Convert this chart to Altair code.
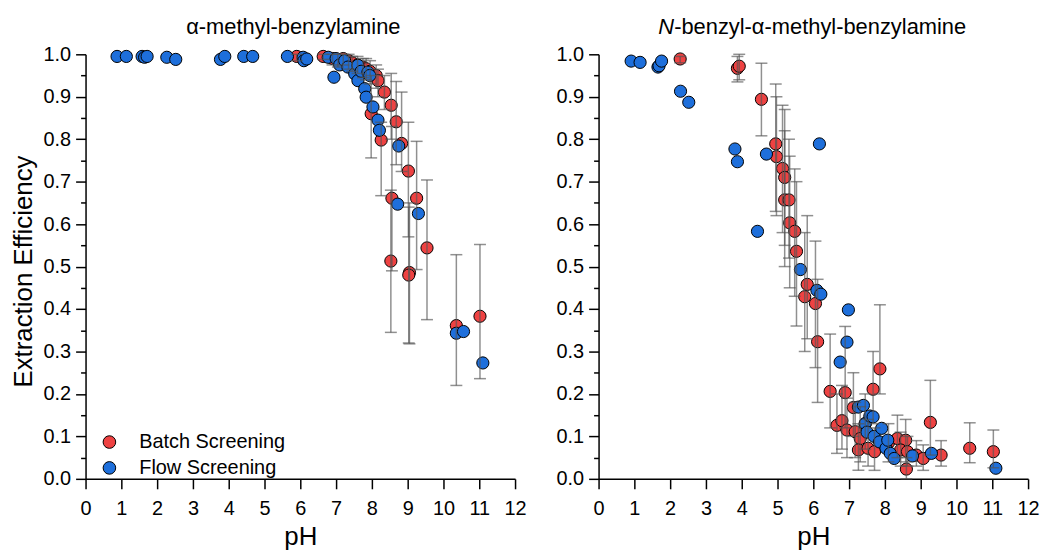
import altair as alt
import pandas as pd

FONT = "Liberation Sans"

series_names = ["Batch Screening", "Flow Screening"]
series_colors = ["#EE4242", "#1E6FDB"]

# ---------------- Left panel: alpha-methyl-benzylamine ----------------
L_batch_ph = [5.90, 6.64, 6.90, 7.05, 7.20, 7.35, 7.45, 7.60, 7.75, 7.84, 7.95, 8.12, 8.17,
              8.35, 8.54, 7.98, 8.68, 8.26, 8.83, 9.02, 8.56, 8.53, 9.25, 9.05, 9.03, 9.54,
              10.36, 11.02]
L_batch_eff = [0.995, 0.995, 0.990, 0.985, 0.990, 0.985, 0.980, 0.975, 0.970, 0.966, 0.960, 0.950, 0.938,
               0.911, 0.880, 0.860, 0.841, 0.798, 0.790, 0.725, 0.661, 0.513, 0.661, 0.486, 0.480, 0.544,
               0.361, 0.383]
L_batch_lo = [0.985, 0.988, 0.975, 0.970, 0.975, 0.965, 0.960, 0.955, 0.945, 0.940, 0.930, 0.920, 0.900,
              0.870, 0.800, 0.756, 0.740, 0.667, 0.724, 0.570, 0.490, 0.345, 0.493, 0.318, 0.320, 0.375,
              0.220, 0.236]
L_batch_hi = [1.000, 1.000, 1.000, 1.000, 1.000, 1.000, 0.995, 0.995, 0.990, 0.990, 0.985, 0.975, 0.965,
              0.950, 0.955, 0.950, 0.936, 0.840, 0.911, 0.840, 0.830, 0.680, 0.795, 0.650, 0.640, 0.704,
              0.528, 0.552]
L_flow_ph = [0.88, 1.14, 1.58, 1.65, 1.72, 2.27, 2.52, 3.77, 3.89, 4.42, 4.67, 5.64, 6.08, 6.10,
             6.18, 6.78, 6.94, 7.00, 7.10, 7.24, 7.33, 7.52, 7.61, 7.61, 7.70, 7.80, 7.84, 7.89,
             7.94, 8.03, 8.17, 8.21, 8.75, 8.72, 9.30, 10.36, 10.56, 11.10]
L_flow_eff = [0.995, 0.995, 0.995, 0.993, 0.995, 0.993, 0.988, 0.988, 0.995, 0.995, 0.995, 0.995, 0.993, 0.985,
              0.989, 0.993, 0.946, 0.990, 0.975, 0.985, 0.970, 0.954, 0.974, 0.938, 0.960, 0.919, 0.899, 0.958,
              0.950, 0.876, 0.845, 0.821, 0.784, 0.647, 0.625, 0.343, 0.347, 0.273]

# ---------------- Right panel: N-benzyl-alpha-methyl-benzylamine ----------------
R_batch_ph = [2.28, 3.88, 3.93, 4.55, 4.95, 4.97, 5.14, 5.20, 5.20, 5.32, 5.34, 5.48, 5.53,
              5.83, 5.76, 6.06, 6.12, 6.47, 6.89, 7.67, 7.86, 7.12, 6.66, 6.80, 6.94, 7.17,
              7.31, 7.26, 7.53, 7.71, 7.45, 8.10, 8.35, 8.58, 8.44, 8.63, 8.60, 8.88, 9.07,
              9.57, 9.27, 10.37, 11.03]
R_batch_eff = [0.989, 0.967, 0.972, 0.894, 0.789, 0.759, 0.731, 0.710, 0.657, 0.657, 0.603, 0.583, 0.536,
               0.458, 0.429, 0.413, 0.323, 0.206, 0.203, 0.211, 0.259, 0.168, 0.126, 0.137, 0.115, 0.111,
               0.095, 0.068, 0.072, 0.064, 0.130, 0.085, 0.095, 0.091, 0.068, 0.064, 0.023, 0.056, 0.048,
               0.056, 0.133, 0.072, 0.064]
R_batch_lo = [0.980, 0.935, 0.940, 0.808, 0.630, 0.620, 0.580, 0.550, 0.500, 0.520, 0.450, 0.430, 0.360,
              0.330, 0.300, 0.262, 0.180, 0.120, 0.120, 0.130, 0.200, 0.100, 0.060, 0.070, 0.050, 0.050,
              0.040, 0.020, 0.030, 0.020, 0.070, 0.040, 0.050, 0.040, 0.030, 0.030, 0.000, 0.030, 0.020,
              0.030, 0.056, 0.038, 0.026]
R_batch_hi = [0.995, 0.995, 1.000, 0.979, 0.930, 0.900, 0.880, 0.870, 0.820, 0.800, 0.760, 0.730, 0.700,
              0.620, 0.580, 0.560, 0.470, 0.341, 0.359, 0.300, 0.410, 0.250, 0.200, 0.220, 0.190, 0.180,
              0.170, 0.130, 0.140, 0.120, 0.200, 0.130, 0.150, 0.140, 0.110, 0.100, 0.050, 0.090, 0.080,
              0.090, 0.232, 0.132, 0.115]
R_flow_ph = [0.91, 1.16, 1.66, 1.69, 1.76, 2.29, 2.52, 3.81, 3.88, 4.44, 4.69, 6.17, 5.64, 6.10,
             6.21, 6.98, 6.94, 6.75, 7.26, 7.40, 7.45, 7.50, 7.58, 7.67, 7.70, 7.91, 7.85, 8.03,
             8.08, 8.15, 8.26, 8.77, 9.30, 11.10]
R_flow_eff = [0.984, 0.981, 0.970, 0.973, 0.984, 0.913, 0.887, 0.777, 0.747, 0.583, 0.765, 0.789, 0.493, 0.444,
              0.435, 0.398, 0.322, 0.275, 0.169, 0.173, 0.130, 0.110, 0.148, 0.146, 0.100, 0.119, 0.087, 0.072,
              0.091, 0.060, 0.048, 0.054, 0.060, 0.025]

x_tick_values = [i * 0.25 for i in range(49)]
y_tick_values = [round(i * 0.05, 2) for i in range(21)]

PLOT_W = 432
PLOT_H = 427


def make_axes(ytitle):
    xaxis = alt.Axis(
        title="pH", values=x_tick_values, format="d",
        labelExpr="datum.value % 1 === 0 ? datum.label : ''",
        tickSize={"condition": {"test": "datum.value % 1 === 0", "value": 10}, "value": 5},
        labelOverlap=False, labelFlush=False, labelFontSize=20, labelPadding=10,
        titleFontSize=26, titlePadding=5, grid=False,
    )
    yargs = dict(
        values=y_tick_values, format=".1f",
        labelExpr="abs(datum.value * 10 - round(datum.value * 10)) < 0.000001 ? datum.label : ''",
        tickSize={"condition": {"test": "abs(datum.value * 10 - round(datum.value * 10)) < 0.000001",
                                "value": 10}, "value": 5},
        labelOverlap=False, labelFlush=False, labelFontSize=20, labelPadding=5, grid=False,
    )
    if ytitle:
        yaxis = alt.Axis(title=ytitle, titleFontSize=26, titleX=-62, titleY=218,
                         titleAlign="center", titleBaseline="middle", **yargs)
    else:
        yaxis = alt.Axis(title=None, **yargs)
    return xaxis, yaxis


def panel(bph, beff, blo, bhi, fph, feff, title_parts, show_legend, ytitle):
    pts = pd.DataFrame({
        "pH": bph + fph,
        "eff": beff + feff,
        "series": [series_names[0]] * len(bph) + [series_names[1]] * len(fph),
    })
    err = pd.DataFrame({"pH": bph, "lo": blo, "hi": bhi})
    xs = alt.Scale(domain=[0, 12], nice=False, zero=False)
    ys = alt.Scale(domain=[0, 1], nice=False, zero=False)
    xaxis, yaxis = make_axes(ytitle)

    if show_legend:
        legend = alt.Legend(orient="none", legendX=14, legendY=380, title=None,
                            symbolType="circle", symbolSize=160, symbolStrokeColor="black",
                            symbolStrokeWidth=1, labelFont=FONT, labelFontSize=20,
                            labelColor="black", labelOffset=20, rowPadding=6, padding=0)
    else:
        legend = None

    points = alt.Chart(pts).mark_circle(size=150, opacity=1, stroke="black", strokeWidth=1).encode(
        x=alt.X("pH:Q", scale=xs, axis=xaxis),
        y=alt.Y("eff:Q", scale=ys, axis=yaxis),
        color=alt.Color("series:N", scale=alt.Scale(domain=series_names, range=series_colors),
                        legend=legend),
    )
    rules = alt.Chart(err).mark_rule(color="#555555", opacity=0.65, strokeWidth=1.5).encode(
        x=alt.X("pH:Q", scale=xs, axis=xaxis),
        y=alt.Y("lo:Q", scale=ys, axis=yaxis),
        y2="hi:Q",
    )
    cap_lo = alt.Chart(err).mark_tick(orient="horizontal", size=12, thickness=1.5,
                                      color="#555555", opacity=0.65).encode(
        x=alt.X("pH:Q", scale=xs, axis=xaxis),
        y=alt.Y("lo:Q", scale=ys, axis=yaxis),
    )
    cap_hi = alt.Chart(err).mark_tick(orient="horizontal", size=12, thickness=1.5,
                                      color="#555555", opacity=0.65).encode(
        x=alt.X("pH:Q", scale=xs, axis=xaxis),
        y=alt.Y("hi:Q", scale=ys, axis=yaxis),
    )
    layers = [points, rules, cap_lo, cap_hi]
    for txt, xpos, align, style in title_parts:
        layers.append(
            alt.Chart(pd.DataFrame({"t": [txt]})).mark_text(
                font=FONT, fontSize=22, align=align, baseline="alphabetic",
                fontStyle=style, color="black",
            ).encode(x=alt.value(xpos), y=alt.value(-20), text="t:N")
        )
    return alt.layer(*layers).properties(width=PLOT_W, height=PLOT_H)


left = panel(L_batch_ph, L_batch_eff, L_batch_lo, L_batch_hi, L_flow_ph, L_flow_eff,
             [("α-methyl-benzylamine", 209, "center", "normal")], True, "Extraction Efficiency")
right = panel(R_batch_ph, R_batch_eff, R_batch_lo, R_batch_hi, R_flow_ph, R_flow_eff,
              [("N", 76, "right", "italic"), ("-benzyl-α-methyl-benzylamine", 76, "left", "normal")],
              False, None)

chart = alt.hconcat(left, right, spacing=29).resolve_scale(color="independent").properties(
    padding={"left": 3, "right": 0, "top": 7, "bottom": 0}
).configure_view(stroke=None).configure_axis(
    domainColor="black", domainWidth=1.5, tickColor="black", tickWidth=1.5,
    labelFont=FONT, labelColor="black", titleFont=FONT, titleColor="black",
    titleFontWeight="normal",
)

chart.save("out.html", embed_options={"renderer": "svg", "actions": False})
